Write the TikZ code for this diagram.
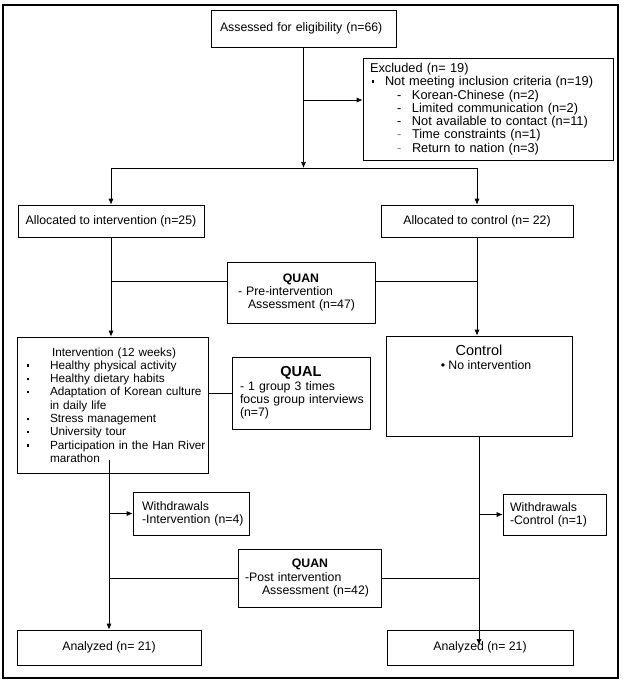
\documentclass[tikz,border=0pt]{standalone}
\usepackage{fontspec}
\setmainfont{Liberation Sans}
\usepackage{tikz}
\usetikzlibrary{arrows.meta, positioning}
\newcommand{\flowfont}{\fontsize{12.3}{13.3}\selectfont}
\newcommand{\sqb}{\rule[0.22em]{2.4pt}{2.4pt}}
\tikzset{
    boxnode/.style = {draw, rectangle, fill=none, line width=0.7pt, inner sep=0pt, node distance=0em, font=\flowfont},
    leftbox/.style = {boxnode, align=left},
    centrebox/.style = {boxnode, align=center},
    connect/.style = {black, line width=0.7pt, -{Latex[length=6pt,width=5pt]}},
    plainline/.style = {black, line width=0.7pt}
}

\begin{document}
\begin{tikzpicture}[x=1pt, y=-1pt]
    \useasboundingbox (0,0) rectangle (626,685);
    \draw[line width=1.6pt] (3,5) rectangle (618,678);

    \node [leftbox, name=assess, text width=185pt, minimum height=37pt] at (303.5,28.5)
        {\leftskip=9pt Assessed for eligibility (n=66)\par};
    \node [leftbox, name=excl, right of = assess, xshift=184.5pt, yshift=-80.5pt, text width=250pt, minimum height=102pt,
           font=\fontsize{12.8}{13.3}\selectfont]
        {\leftskip=7pt Excluded (n= 19)\\
         \makebox[15pt][l]{\hspace{2pt}\sqb}Not meeting inclusion criteria (n=19)\\
         \hspace*{27pt}\makebox[15pt][l]{-}Korean-Chinese (n=2)\\
         \hspace*{27pt}\makebox[15pt][l]{-}Limited communication (n=2)\\
         \hspace*{27pt}\makebox[15pt][l]{-}Not available to contact (n=11)\\
         \hspace*{27pt}\makebox[15pt][l]{\textcolor{gray}{-}}Time constraints (n=1)\\
         \hspace*{27pt}\makebox[15pt][l]{\textcolor{gray}{-}}Return to nation (n=3)\par};

    \node [centrebox, name=alloci, below of = assess, xshift=-192.5pt, yshift=-192.5pt, minimum width=186pt, minimum height=32pt]
        {Allocated to intervention (n=25)};
    \node [centrebox, name=allocc, right of = alloci, xshift=366pt, minimum width=192pt, minimum height=32pt]
        {Allocated to control (n= 22)};

    \node [leftbox, name=quanpre, below of = assess, xshift=-2.5pt, yshift=-264pt, text width=148pt, minimum height=61pt]
        {\leftskip=11pt \makebox[126pt]{\bfseries QUAN}\\
         - Pre-intervention\\
         \hspace*{10pt}Assessment (n=47)\par\vspace{5pt}};

    \node [leftbox, name=interv, below of = alloci, xshift=1.5pt, yshift=-184pt, text width=191pt, minimum height=136pt,
           font=\fontsize{11.8}{13.3}\selectfont]
        {\leftskip=10pt \hspace*{25pt}Intervention (12 weeks)\\
         \makebox[23pt][l]{\sqb}Healthy physical activity\\
         \makebox[23pt][l]{\sqb}Healthy dietary habits\\
         \makebox[23pt][l]{\sqb}\mbox{Adaptation of Korean culture}\\
         \hspace*{23pt}in daily life\\
         \makebox[23pt][l]{\sqb}Stress management\\
         \makebox[23pt][l]{\sqb}University tour\\
         \makebox[23pt][l]{\sqb}\mbox{Participation in the Han River}\\
         \hspace*{23pt}marathon\par};

    \node [leftbox, name=qual, right of = interv, xshift=188.5pt, yshift=12pt, text width=138pt, minimum height=72pt]
        {\leftskip=8pt \makebox[122pt]{\fontsize{14.5}{16}\selectfont\bfseries QUAL}\\
         - 1 group 3 times\\
         \mbox{focus group interviews}\\
         (n=7)\par};

    \node [boxnode, name=ctrl, below of = allocc, xshift=2pt, yshift=-165pt]
        {\parbox[c][100pt][t]{186pt}{\centering\vspace*{9pt}%
         {\fontsize{14.5}{15}\selectfont Control}\\[1pt]
         \hspace*{14pt}\textbullet{} No intervention}};

    \node [leftbox, name=wdi, below of = interv, xshift=78.5pt, yshift=-108.5pt, text width=116pt, minimum height=43pt]
        {\leftskip=9pt Withdrawals\\
         -Intervention (n=4)\par};
    \node [leftbox, name=wdc, below of = ctrl, xshift=75.5pt, yshift=-128.5pt, text width=103pt, minimum height=41pt]
        {\leftskip=7pt Withdrawals\\
         -Control (n=1)\par};

    \node [leftbox, name=quanpost, below of = quanpre, xshift=8.5pt, yshift=-285.5pt, text width=143pt, minimum height=58pt]
        {\leftskip=7pt \makebox[130pt]{\bfseries QUAN}\\
         -Post intervention\\
         \hspace*{17pt}Assessment (n=42)\par};

    \node [centrebox, name=anai, below of = interv, xshift=-3.5pt, yshift=-242.5pt, minimum width=184pt, minimum height=35pt]
        {Analyzed (n= 21)};
    \node [centrebox, name=anac, right of = anai, xshift=371pt, minimum width=186pt, minimum height=35pt]
        {Analyzed (n= 21)};

    % screening
    \coordinate (split) at (303.5,168);
    \draw[connect] (assess.south) -- (split);
    \draw[connect] (assess.south |- 0,100) -- (excl.west |- 0,100);
    \draw[plainline] (alloci.north |- split) -- (allocc.north |- split);
    \draw[connect] (alloci.north |- split) -- (alloci.north);
    \draw[connect] (allocc.north |- split) -- (allocc.north);

    % pre assessment
    \draw[connect] (alloci.south) -- (alloci.south |- interv.north);
    \draw[connect] (allocc.south) -- (allocc.south |- ctrl.north);
    \draw[plainline] (alloci.south |- 0,281) -- (quanpre.west |- 0,281);
    \draw[plainline] (quanpre.east |- 0,281) -- (allocc.south |- 0,281);
    \draw[plainline] (interv.east |- qual.west) -- (qual.west);

    % follow up
    \draw[connect] (anai.north |- 0,460) -- (anai.north);
    \draw[connect] (anai.north |- wdi.west) -- (wdi.west);
    \draw[connect] (ctrl.south) -- (ctrl.south |- 0,645);
    \draw[connect] (ctrl.south |- wdc.west) -- (wdc.west);
    \draw[plainline] (anai.north |- quanpost.west) -- (quanpost.west);
    \draw[plainline] (quanpost.east) -- (quanpost.east -| ctrl.south);
\end{tikzpicture}
\end{document}
